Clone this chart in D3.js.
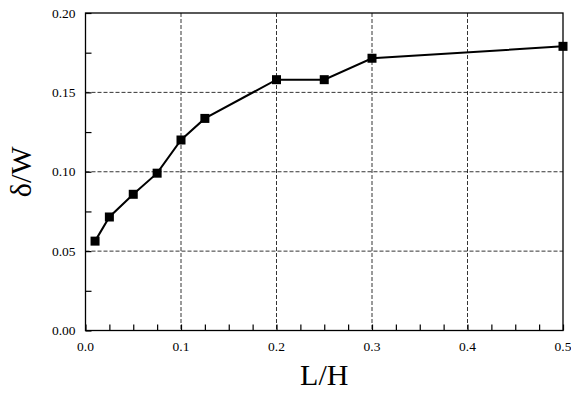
<!DOCTYPE html>
<html>
<head>
<meta charset="utf-8">
<script src="https://cdn.jsdelivr.net/npm/d3@7"></script>
<style>
  body { margin: 0; background: #fff; }
  text { font-family: "Liberation Serif", "Times New Roman", serif; fill: #000; }
</style>
</head>
<body>
<svg id="chart" width="571" height="393"></svg>
<script>
const ratioLH = [0.01, 0.025, 0.05, 0.075, 0.1, 0.125, 0.2, 0.25, 0.3, 0.5]
const deltaW = [0.0563, 0.0715, 0.0858, 0.0991, 0.120, 0.1336, 0.158, 0.158, 0.1715, 0.179]
const xTicks = [0.0, 0.1, 0.2, 0.3, 0.4, 0.5]
const yTicks = [0.00, 0.05, 0.10, 0.15, 0.20]
const xMinor = d3.range(0, 0.5001, 0.025)
const yMinor = d3.range(0, 0.2001, 0.025)

const svg = d3.select('#chart')
const plotL = 85.5, plotR = 563, plotT = 13, plotB = 330.5

const x = d3.scaleLinear().domain([0, 0.5]).range([plotL, plotR])
const y = d3.scaleLinear().domain([0, 0.2]).range([plotB, plotT])

// grid
svg.append('g')
  .selectAll('line')
  .data(xTicks.slice(1, -1))
  .enter()
  .append('line')
  .attr('x1', d => x(d)).attr('x2', d => x(d))
  .attr('y1', plotT).attr('y2', plotB)
  .style('stroke', '#000')
  .style('stroke-width', 0.8)
  .style('stroke-dasharray', '4,2')

svg.append('g')
  .selectAll('line')
  .data(yTicks.slice(1, -1))
  .enter()
  .append('line')
  .attr('x1', plotL).attr('x2', plotR)
  .attr('y1', d => y(d)).attr('y2', d => y(d))
  .style('stroke', '#000')
  .style('stroke-width', 0.8)
  .style('stroke-dasharray', '4,2')

// axes with inward ticks
const xAxis = d3.axisBottom(x).tickValues(xMinor).tickSize(-6).tickFormat('')
const yAxis = d3.axisLeft(y).tickValues(yMinor).tickSize(-6).tickFormat('')

const gx = svg.append('g').attr('transform', 'translate(0,' + plotB + ')').call(xAxis)
const gy = svg.append('g').attr('transform', 'translate(' + plotL + ',0)').call(yAxis)
gx.select('.domain').remove()
gy.select('.domain').remove()
gx.selectAll('line').style('stroke', '#000').style('stroke-width', 1.2)
gy.selectAll('line').style('stroke', '#000').style('stroke-width', 1.2)

svg.append('rect')
  .attr('x', plotL).attr('y', plotT)
  .attr('width', plotR - plotL).attr('height', plotB - plotT)
  .style('fill', 'none')
  .style('stroke', '#000')
  .style('stroke-width', 1.3)

// tick labels
svg.append('g')
  .selectAll('text')
  .data(xTicks)
  .enter()
  .append('text')
  .attr('x', d => x(d))
  .attr('y', plotB + 20)
  .attr('text-anchor', 'middle')
  .style('font-size', '13.5px')
  .text(d => d3.format('.1f')(d))

svg.append('g')
  .selectAll('text')
  .data(yTicks)
  .enter()
  .append('text')
  .attr('x', plotL - 10)
  .attr('y', d => y(d) + 4.5)
  .attr('text-anchor', 'end')
  .style('font-size', '13.5px')
  .text(d => d3.format('.2f')(d))

// axis titles
svg.append('text')
  .attr('x', (plotL + plotR) / 2)
  .attr('y', 385)
  .attr('text-anchor', 'middle')
  .style('font-size', '30px')
  .text('L/H')

svg.append('text')
  .attr('transform', 'translate(31,' + ((plotT + plotB) / 2) + ') rotate(-90)')
  .attr('text-anchor', 'middle')
  .style('font-size', '30px')
  .text('δ/W')

// line and markers
const pts = ratioLH.map((d, i) => ({ lh: d, dw: deltaW[i] }))

const line = d3.line()
  .x(d => x(d.lh))
  .y(d => y(d.dw))

svg.append('path')
  .datum(pts)
  .attr('d', line)
  .style('fill', 'none')
  .style('stroke', '#000')
  .style('stroke-width', 2)

svg.append('g')
  .selectAll('rect')
  .data(pts)
  .enter()
  .append('rect')
  .attr('x', d => x(d.lh) - 4.5)
  .attr('y', d => y(d.dw) - 4.5)
  .attr('width', 9)
  .attr('height', 9)
  .style('fill', '#000')
</script>
</body>
</html>
